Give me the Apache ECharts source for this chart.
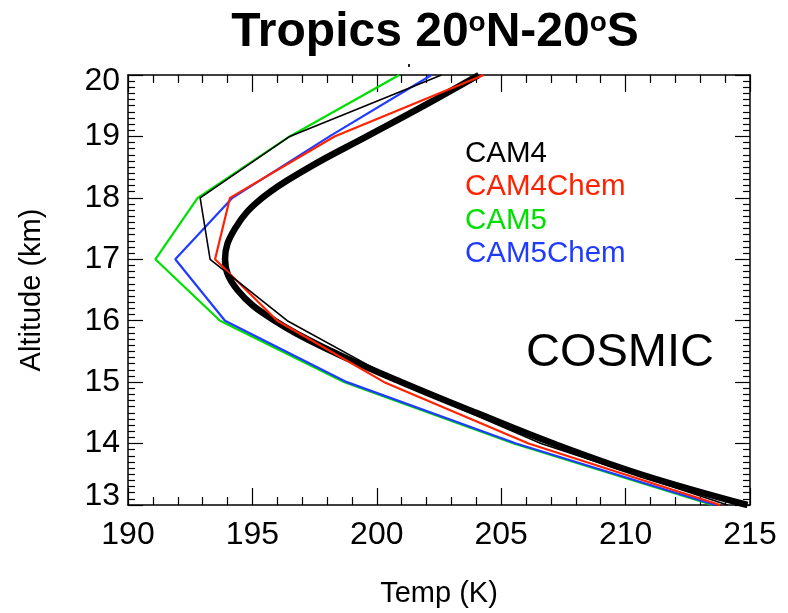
<!DOCTYPE html>
<html>
<head>
<meta charset="utf-8">
<script src="https://cdn.jsdelivr.net/npm/echarts@6/dist/echarts.min.js"></script>
<style>
  html, body { margin: 0; padding: 0; background: #ffffff; }
  #chart { width: 788px; height: 613px; }
</style>
</head>
<body>
<div id="chart"></div>
<script>
// Model levels (km) and temperature profiles (K)
const altitudes = [13, 14, 15, 16, 17, 18, 19, 20];
const cam4      = [214.1, 206.6, 200.9, 196.4, 193.3, 192.9, 196.5, 202.6];
const cam4Chem  = [213.8, 206.1, 200.3, 196.0, 193.5, 194.1, 198.3, 204.3];
const cam5      = [213.5, 205.5, 198.7, 193.7, 191.1, 192.8, 196.5, 200.9];
const cam5Chem  = [213.6, 205.6, 198.8, 193.9, 191.9, 194.2, 198.1, 202.2];

// Observed profile at finer vertical spacing
const cosmicAlt = [13, 13.5, 14, 14.5, 15, 15.5, 16, 16.5, 17, 17.5, 18, 18.5, 19, 19.5, 20];
const cosmic    = [214.9, 210.6, 207.1, 204.0, 201.0, 198.2, 195.9, 194.4, 193.9, 194.3, 195.4, 197.3, 199.6, 201.9, 204.1];

const legendNames = ['CAM4', 'CAM4Chem', 'CAM5', 'CAM5Chem'];
const legendColors = ['#000000', '#ff2200', '#00e000', '#1f3bff'];

const pairs = (xs, ys) => xs.map((v, i) => [v, ys[i]]);

const labelFont = "'Liberation Sans', Arial, sans-serif";
const textFont = "'Liberation Sans', Arial, sans-serif";

const chart = echarts.init(document.getElementById('chart'), null, { renderer: 'canvas' });

const xBase = {
  type: 'value', min: 190, max: 215, interval: 5,
  axisLine: { show: true, onZero: false, lineStyle: { color: '#000', width: 1.5 } },
  axisTick: { show: true, inside: true, length: 17, lineStyle: { color: '#000', width: 1.2 } },
  minorTick: { show: true, splitNumber: 5, length: 8, lineStyle: { color: '#000', width: 1.2 } },
  splitLine: { show: false }
};
const yBase = {
  type: 'value', min: 13, max: 20, interval: 1,
  axisLine: { show: true, onZero: false, lineStyle: { color: '#000', width: 1.5 } },
  axisTick: { show: true, inside: true, length: 15, lineStyle: { color: '#000', width: 1.2 } },
  minorTick: { show: true, splitNumber: 10, length: 7, lineStyle: { color: '#000', width: 1.2 } },
  splitLine: { show: false }
};

const option = {
  animation: false,
  backgroundColor: '#ffffff',
  title: {
    text: 'Tropics 20{s|o}N-20{s|o}S',
    left: 430, top: 4, textAlign: 'center',
    textStyle: {
      fontFamily: textFont, fontWeight: 'bold', fontSize: 48, color: '#000',
      rich: {
        s: { fontFamily: textFont, fontWeight: 'bold', fontSize: 28, color: '#000', verticalAlign: 'top', padding: [0, 0, 16, 0] }
      }
    }
  },
  grid: { left: 128, right: 38, top: 75, bottom: 103, containLabel: false },
  xAxis: [
    Object.assign({}, xBase, {
      position: 'bottom',
      name: 'Temp (K)', nameLocation: 'middle', nameGap: 74,
      nameTextStyle: { fontFamily: textFont, fontSize: 29, color: '#000' },
      axisLabel: { show: true, margin: 14, fontFamily: labelFont, fontSize: 32, color: '#000' }
    }),
    Object.assign({}, xBase, { position: 'top', axisLabel: { show: false } })
  ],
  yAxis: [
    Object.assign({}, yBase, {
      position: 'left',
      name: 'Altitude (km)', nameLocation: 'middle', nameGap: 82,
      nameTextStyle: { fontFamily: textFont, fontSize: 29, color: '#000' },
      axisLabel: {
        show: true, margin: 8, fontFamily: labelFont, fontSize: 32, color: '#000',
        formatter: v => v === 20 ? '{hi|20}' : (v === 13 ? '{lo|13}' : String(v)),
        rich: {
          hi: { fontFamily: labelFont, fontSize: 32, color: '#000', padding: [12, 0, 0, 0] },
          lo: { fontFamily: labelFont, fontSize: 32, color: '#000', padding: [0, 0, 18, 0] }
        }
      }
    }),
    Object.assign({}, yBase, { position: 'right', axisLabel: { show: false } })
  ],
  graphic: [
    ...legendNames.map((n, i) => ({
      type: 'text', left: 465, top: 139 + i * 33.3,
      style: { text: n, fontFamily: textFont, fontSize: 29.5, fill: legendColors[i] }
    })),
    {
      type: 'text', left: 526, top: 330,
      style: { text: 'COSMIC', fontFamily: textFont, fontSize: 47, fill: '#000' }
    },
    { type: 'rect', shape: { x: 408, y: 64, width: 2, height: 3 }, style: { fill: '#222' } }
  ],
  series: [
    {
      name: 'COSMIC', type: 'line', data: pairs(cosmic, cosmicAlt), smooth: 0.4,
      showSymbol: false, lineStyle: { color: '#000', width: 6.5 }, z: 2
    },
    {
      name: 'CAM5', type: 'line', data: pairs(cam5, altitudes),
      showSymbol: false, lineStyle: { color: legendColors[2], width: 2.2 }, z: 3
    },
    {
      name: 'CAM5Chem', type: 'line', data: pairs(cam5Chem, altitudes),
      showSymbol: false, lineStyle: { color: legendColors[3], width: 2.2 }, z: 4
    },
    {
      name: 'CAM4Chem', type: 'line', data: pairs(cam4Chem, altitudes),
      showSymbol: false, lineStyle: { color: legendColors[1], width: 2.2 }, z: 5
    },
    {
      name: 'CAM4', type: 'line', data: pairs(cam4, altitudes),
      showSymbol: false, lineStyle: { color: legendColors[0], width: 1.6 }, z: 6
    }
  ]
};

chart.setOption(option);
</script>
</body>
</html>
